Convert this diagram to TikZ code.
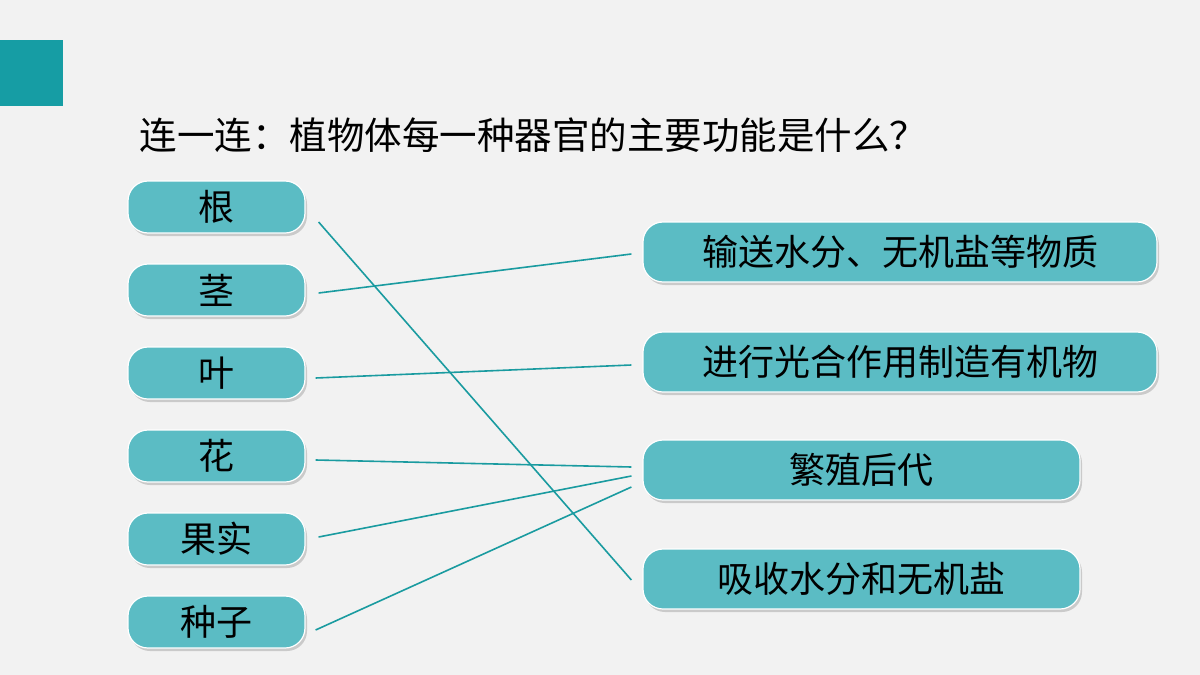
\documentclass[tikz,border=0pt]{standalone}
\usepackage{fontspec}
\newfontfamily\cjk{Noto Sans CJK SC}
\usetikzlibrary{shadows}
\definecolor{bg}{HTML}{F2F2F2}
\definecolor{pill}{HTML}{5BBCC4}
\definecolor{ln}{HTML}{1A9BA0}
\definecolor{sq}{HTML}{169DA4}
\begin{document}
\begin{tikzpicture}[x=1pt,y=-1pt,
  pl/.style={rounded corners=20pt,fill=pill,draw=white,line width=1.2pt,
    drop shadow={shadow xshift=2pt,shadow yshift=-3pt,opacity=0.35},
    font=\cjk\fontsize{36}{36}\selectfont,text=black,inner sep=0pt},
  cn/.style={draw=ln,line width=1.6pt}]
\fill[bg] (0,0) rectangle (1200,675);
\fill[sq] (0,40) rectangle (63,106);
\node[anchor=west,font=\cjk\fontsize{37.5}{38}\selectfont] (t) at (136,135) {连一连：植物体每一种器官的主要功能是什么？};
\foreach \n/\y/\s in {a/207/根,b/290/茎,c/373/叶,d/456/花,e/539/果实,f/622/种子}{
  \node[pl,minimum width=177pt,minimum height=52pt] (\n) at (216.5,\y) {\s};}
\node[pl,minimum width=514pt,minimum height=60pt] (p) at (900,252) {输送水分、无机盐等物质};
\node[pl,minimum width=514pt,minimum height=60pt] (q) at (900,362) {进行光合作用制造有机物};
\node[pl,minimum width=437pt,minimum height=60pt] (r) at (861.5,470) {繁殖后代};
\node[pl,minimum width=437pt,minimum height=60pt] (s) at (861.5,579) {吸收水分和无机盐};
\coordinate (a1) at ([shift={(13,15)}]a.east);
\coordinate (b1) at ([shift={(13,3)}]b.east);
\coordinate (c1) at ([shift={(10,5)}]c.east);
\coordinate (d1) at ([shift={(10,4)}]d.east);
\coordinate (e1) at ([shift={(13,-2)}]e.east);
\coordinate (f1) at ([shift={(10,8)}]f.east);
\draw[cn] (a1) -- ([shift={(-11,1)}]s.west);
\draw[cn] (b1) -- ([shift={(-11,2)}]p.west);
\draw[cn] (c1) -- ([shift={(-11,3)}]q.west);
\draw[cn] (d1) -- ([shift={(-11,-3)}]r.west);
\draw[cn] (e1) -- ([shift={(-11,6)}]r.west);
\draw[cn] (f1) -- ([shift={(-11,17)}]r.west);
\end{tikzpicture}
\end{document}
